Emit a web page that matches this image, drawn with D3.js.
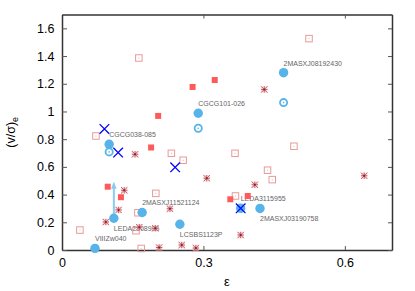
<!DOCTYPE html>
<html>
<head>
<meta charset="utf-8">
<script src="https://cdn.jsdelivr.net/npm/d3@7"></script>
<style>
  html, body { margin: 0; padding: 0; background: #fff; }
  svg { display: block; font-family: "Liberation Sans", Arial, sans-serif; }
</style>
</head>
<body>
<svg id="chart" width="415" height="291"></svg>
<script>
// ---- data (epsilon, (v/sigma)_e) ----
const openSquares = [
  [0.038, 0.144], [0.072, 0.823], [0.163, 1.386], [0.161, 0.269], [0.199, 0.409],
  [0.232, 0.698], [0.257, 0.648], [0.157, 0.139], [0.168, 0.011], [0.367, 0.698],
  [0.436, 0.576], [0.446, 0.508], [0.368, 0.390], [0.492, 0.749], [0.524, 1.526]
];
const filledSquares = [
  [0.324, 1.227], [0.277, 1.177], [0.204, 0.968], [0.189, 0.740],
  [0.097, 0.457], [0.125, 0.381], [0.357, 0.366], [0.394, 0.390]
];
const stars = [
  [0.429, 1.159], [0.155, 0.691], [0.132, 0.431], [0.120, 0.289], [0.093, 0.202],
  [0.164, 0.165], [0.198, 0.157], [0.206, 0.018], [0.229, 0.298], [0.307, 0.518],
  [0.409, 0.471], [0.379, 0.108], [0.254, 0.036], [0.284, 0.014], [0.641, 0.536]
];
const blueNames = [
  "CGCG101-026", "2MASXJ08192430", "CGCG038-085", "LEDA2108986", "2MASXJ11521124",
  "VIIIZw040", "LCSBS1123P", "2MASXJ03190758", "LEDA3115955"
];
const blueEps = [0.289, 0.470, 0.100, 0.110, 0.170, 0.070, 0.250, 0.420, 0.379];
const blueVs  = [0.987, 1.280, 0.763, 0.229, 0.271, 0.012, 0.186, 0.300, 0.301];
const blueLabelSide = ["above", "above", "above", "below", "above", "above", "below", "below", "above"];
const openCircles = [[0.289, 0.879], [0.470, 1.064], [0.100, 0.708]];
const crosses = [[0.090, 0.874], [0.119, 0.703], [0.240, 0.597], [0.379, 0.301]];
// lower limit arrow for LEDA2108986
const arrowFrom = [0.110, 0.229];
const arrowTo = [0.110, 0.493];
const xTicks = [0, 0.3, 0.6];
const yTicks = [0, 0.2, 0.4, 0.6, 0.8, 1, 1.2, 1.4, 1.6];

// ---- layout ----
const svg = d3.select("#chart");
const L = 62, R = 392, T = 14.5, B = 250;
const x = d3.scaleLinear().domain([0, 0.7]).range([L, R]);
const y = d3.scaleLinear().domain([0, 1.7]).range([B, T]);
const fmt = d => String(d);

const axisColor = "#333";
function styleAxis(g) {
  g.select(".domain").attr("stroke", axisColor).attr("stroke-width", 1.5);
  g.selectAll(".tick line").attr("stroke", "#555").attr("stroke-width", 1);
  g.selectAll(".tick text").attr("fill", "#000").attr("font-size", 12.5)
    .attr("font-family", "'Liberation Sans', Arial, sans-serif");
}
svg.append("g").attr("transform", `translate(0,${B})`)
  .call(d3.axisBottom(x).tickValues(xTicks).tickFormat(fmt).tickSize(-4).tickSizeOuter(0).tickPadding(8))
  .call(styleAxis);
svg.append("g").attr("transform", `translate(0,${T})`)
  .call(d3.axisTop(x).tickValues(xTicks).tickFormat("").tickSize(-4).tickSizeOuter(0))
  .call(styleAxis);
svg.append("g").attr("transform", `translate(${L},0)`)
  .call(d3.axisLeft(y).tickValues(yTicks).tickFormat(fmt).tickSize(-5).tickSizeOuter(0).tickPadding(7.5))
  .call(styleAxis);
svg.append("g").attr("transform", `translate(${R},0)`)
  .call(d3.axisRight(y).tickValues(yTicks).tickFormat("").tickSize(-4).tickSizeOuter(0))
  .call(styleAxis);

// axis titles
const yl = svg.append("text")
  .attr("transform", `translate(14.5,${(T + B) / 2}) rotate(-90)`)
  .attr("text-anchor", "middle").attr("font-size", 12.5).attr("fill", "#000");
yl.append("tspan").text("(v/σ)");
yl.append("tspan").attr("font-size", 9).attr("dy", 3).text("e");
svg.append("text").attr("x", (L + R) / 2).attr("y", 286).attr("text-anchor", "middle")
  .attr("font-size", 13).attr("fill", "#000").text("ε");

const blue = d3.range(blueNames.length).map(i => ({
  e: blueEps[i], v: blueVs[i], name: blueNames[i], side: blueLabelSide[i]
}));

// labels
svg.append("g").selectAll("text").data(blue).join("text")
  .attr("x", d => x(d.e))
  .attr("y", d => y(d.v) + (d.side === "above" ? -7 : 12.5))
  .attr("font-size", 7).attr("fill", "#666").text(d => d.name);

// open squares
const sq = 6.5;
const gOS = svg.append("g");
gOS.selectAll("rect").data(openSquares).join("rect")
  .attr("x", d => x(d[0]) - sq / 2).attr("y", d => y(d[1]) - sq / 2)
  .attr("width", sq).attr("height", sq)
  .attr("fill", "none").attr("stroke", "#e89a9a").attr("stroke-width", 1);
gOS.selectAll("circle").data(openSquares).join("circle")
  .attr("cx", d => x(d[0])).attr("cy", d => y(d[1])).attr("r", 0.5).attr("fill", "#e89a9a");

// filled squares
const fs = 6;
svg.append("g").selectAll("rect").data(filledSquares).join("rect")
  .attr("x", d => x(d[0]) - fs / 2).attr("y", d => y(d[1]) - fs / 2)
  .attr("width", fs).attr("height", fs).attr("fill", "#ff5a5a");

// stars
const st = 3.2;
const gSt = svg.append("g").selectAll("g").data(stars).join("g")
  .attr("transform", d => `translate(${x(d[0])},${y(d[1])})`);
gSt.append("rect").attr("x", -3.2).attr("y", -3.2).attr("width", 6.4).attr("height", 6.4)
  .attr("fill", "#f4c4c4").attr("opacity", 0.55);
gSt.append("path")
  .attr("d", `M${-st},0H${st}M0,${-st}V${st}M${-st},${-st}L${st},${st}M${-st},${st}L${st},${-st}`)
  .attr("stroke", "#c0505e").attr("stroke-width", 0.9).attr("fill", "none");
gSt.append("circle").attr("r", 1).attr("fill", "#8a1a2a");

// arrow
const ac = "#8ccbef";
svg.append("line")
  .attr("x1", x(arrowFrom[0])).attr("y1", y(arrowFrom[1]))
  .attr("x2", x(arrowTo[0])).attr("y2", y(arrowTo[1]) + 2)
  .attr("stroke", ac).attr("stroke-width", 2);
svg.append("path")
  .attr("d", `M${x(arrowTo[0])},${y(arrowTo[1])}l-2.8,7h5.6z`)
  .attr("fill", ac);

// blue filled circles
svg.append("g").selectAll("circle").data(blue).join("circle")
  .attr("cx", d => x(d.e)).attr("cy", d => y(d.v)).attr("r", 4.7).attr("fill", "#56b4e9");

// open blue circles
const gOC = svg.append("g");
gOC.selectAll("circle.ring").data(openCircles).join("circle").attr("class", "ring")
  .attr("cx", d => x(d[0])).attr("cy", d => y(d[1])).attr("r", 3.6)
  .attr("fill", "none").attr("stroke", "#56b4e9").attr("stroke-width", 1.8);
gOC.selectAll("circle.dot").data(openCircles).join("circle").attr("class", "dot")
  .attr("cx", d => x(d[0])).attr("cy", d => y(d[1])).attr("r", 0.8).attr("fill", "#56b4e9");

// crosses
const cs = 4.8;
svg.append("g").selectAll("path").data(crosses).join("path")
  .attr("d", d => {
    const cx = x(d[0]), cy = y(d[1]);
    return `M${cx - cs},${cy - cs}L${cx + cs},${cy + cs}M${cx - cs},${cy + cs}L${cx + cs},${cy - cs}`;
  })
  .attr("stroke", "#0000ff").attr("stroke-width", 1.3).attr("fill", "none");
</script>
</body>
</html>
